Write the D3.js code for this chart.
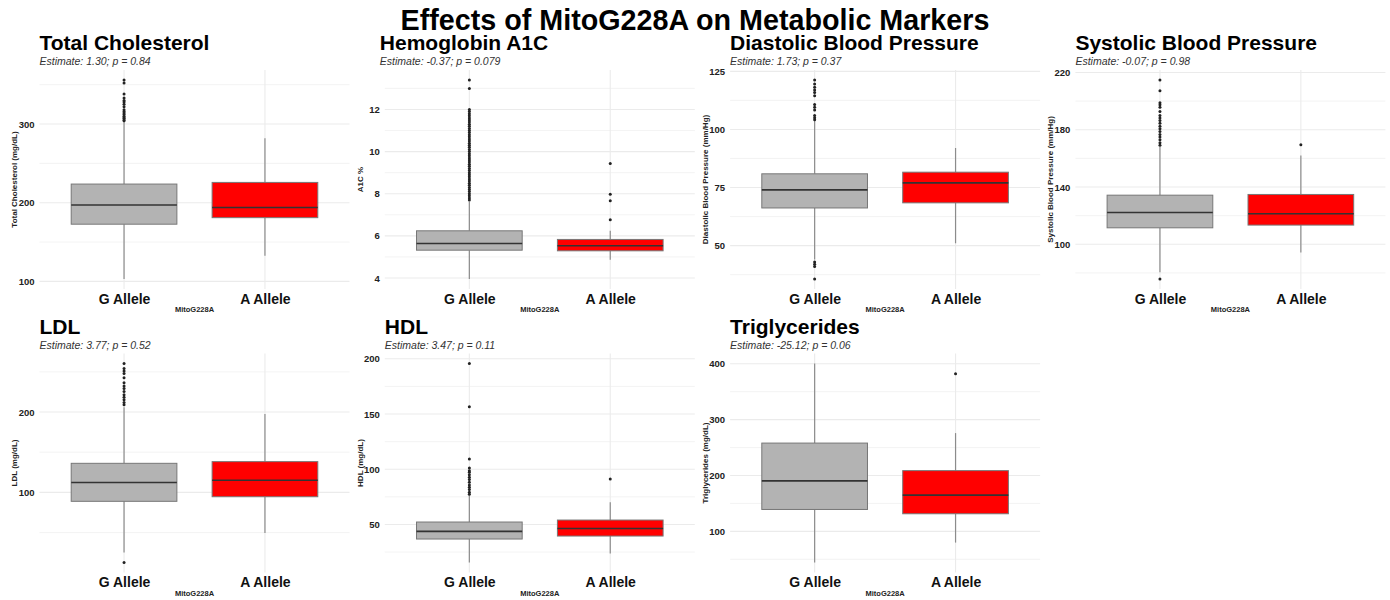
<!DOCTYPE html>
<html>
<head>
<meta charset="utf-8">
<script src="https://cdn.jsdelivr.net/npm/d3@7"></script>
<style>
  body { margin: 0; background: #fff; }
  text { font-family: "Liberation Sans", Arial, sans-serif; }
</style>
</head>
<body>
<div id="chart"></div>
<script>
var svgWidth = 1390;
var svgHeight = 600;

var mainTitle = "Effects of MitoG228A on Metabolic Markers";
var categories = ["G Allele", "A Allele"];
var xTitle = "MitoG228A";

var panelTitles = ["Total Cholesterol", "Hemoglobin A1C", "Diastolic Blood Pressure", "Systolic Blood Pressure",
                   "LDL", "HDL", "Triglycerides"];
var subtitles = ["Estimate: 1.30; p = 0.84", "Estimate: -0.37; p = 0.079", "Estimate: 1.73; p = 0.37",
                 "Estimate: -0.07; p = 0.98", "Estimate: 3.77; p = 0.52", "Estimate: 3.47; p = 0.11",
                 "Estimate: -25.12; p = 0.06"];
var yTitles = ["Total Cholesterol (mg/dL)", "A1C %", "Diastolic Blood Pressure (mm/Hg)",
               "Systolic Blood Pressure (mm/Hg)", "LDL (mg/dL)", "HDL (mg/dL)", "Triglycerides (mg/dL)"];
var yTicks = [[100, 200, 300], [4, 6, 8, 10, 12], [50, 75, 100, 125], [100, 140, 180, 220],
              [100, 200], [50, 100, 150, 200], [100, 200, 300, 400]];

// [lower whisker, Q1, median, Q3, upper whisker]
var gStats = [[103, 172.7, 197, 223.7, 302.6], [3.95, 5.32, 5.64, 6.24, 7.62], [44, 66.2, 74.0, 80.9, 103.9],
              [80.5, 111.5, 122.2, 134.3, 167.9], [25.1, 88.9, 112.3, 136.2, 206], [15.5, 36.8, 43.7, 52.2, 76.2],
              [44.2, 139.2, 190.3, 258, 400.5]];
var aStats = [[132.5, 181, 194, 225.8, 282], [4.87, 5.29, 5.53, 5.83, 6.24], [51.0, 68.4, 77.0, 81.6, 92.0],
              [94.2, 113.4, 121.3, 134.8, 162.1], [49.4, 94.6, 115.2, 138.3, 197.5], [23.6, 39.5, 46.4, 54.0, 70.2],
              [79.9, 131.5, 164.8, 208.7, 275.9]];

var gOutliers = [
  [356, 352, 338, 333, 330, 328, 325, 322, 318, 316, 314, 312, 310, 308, 307, 305, 304],
  [13.4, 13.0, 12.0, 11.9, 11.8, 11.7, 11.6, 11.5, 11.4, 11.3, 11.2, 11.1, 11.0, 10.9, 10.8, 10.7, 10.6,
   10.5, 10.4, 10.3, 10.2, 10.1, 10.0, 9.9, 9.8, 9.7, 9.6, 9.5, 9.4, 9.3, 9.2, 9.1, 9.0, 8.9, 8.8, 8.7,
   8.6, 8.5, 8.4, 8.3, 8.2, 8.1, 8.0, 7.9, 7.8, 7.7],
  [121.3, 119.6, 118.2, 117, 115.9, 114.5, 110.7, 109.6, 108.4, 106, 105, 104.2, 42.9, 42, 41, 35.6],
  [214.8, 207.3, 198.8, 197.4, 195.7, 192.7, 189.9, 188.3, 186.5, 184.6, 182.5, 180.7, 178.8, 176.7,
   174.9, 173, 171, 169.1, 75.7],
  [260.5, 254.3, 251, 248.1, 242.7, 236.5, 232.5, 229.2, 225.5, 221.4, 218.5, 215.2, 211.9, 209, 12.7],
  [195.8, 156.7, 109.2, 101.1, 98.7, 97.2, 95.1, 92.7, 90.6, 88.2, 85.8, 83.7, 81.6, 79.2, 77.4],
  []
];
var aOutliers = [[], [9.44, 7.97, 7.67, 6.76], [], [169.6], [], [91.2], [382.2]];

var fills = ["#b3b3b3", "#ff0000"];

// layout
var plotW = 310, plotH = 219;
var titleDx = [0, -5, 0, 0, 0, 0, 0];

var svg = d3.select("#chart").append("svg")
    .attr("width", svgWidth)
    .attr("height", svgHeight);

svg.append("text")
    .attr("x", svgWidth / 2)
    .attr("y", 30)
    .attr("text-anchor", "middle")
    .style("font-size", "28.7px")
    .style("font-weight", "bold")
    .attr("fill", "#000")
    .text(mainTitle);

panelTitles.forEach(function(title, i) {
    var col = i % 4, row = Math.floor(i / 4);
    var left = 39.5 + col * 345.3;
    var top = 70 + row * 283.5;

    var g = svg.append("g").attr("transform", `translate(${left}, ${top})`);

    var allVals = gStats[i].concat(aStats[i], gOutliers[i], aOutliers[i]);
    var lo = d3.min(allVals), hi = d3.max(allVals);
    var pad = (hi - lo) * 0.05;

    var yScale = d3.scaleLinear().domain([lo - pad, hi + pad]).range([plotH, 0]);
    var xScale = d3.scalePoint().domain(categories).range([0, plotW]).padding(0.6);
    var step = xScale.step();
    var boxW = step * 0.75;

    // minor grid
    var t = yTicks[i];
    var tStep = t[1] - t[0];
    var minors = [];
    for (var m = t[0] - tStep * 1.5; m <= hi + pad; m += tStep) {
        if (m >= lo - pad) minors.push(m);
    }
    g.append("g").selectAll("line")
        .data(minors)
        .enter()
        .append("line")
        .attr("x1", 0).attr("x2", plotW)
        .attr("y1", d => yScale(d)).attr("y2", d => yScale(d))
        .attr("stroke", "#f0f0f0")
        .attr("stroke-width", 0.8);

    // major grid
    g.append("g").selectAll("line")
        .data(t)
        .enter()
        .append("line")
        .attr("x1", 0).attr("x2", plotW)
        .attr("y1", d => yScale(d)).attr("y2", d => yScale(d))
        .attr("stroke", "#ebebeb")
        .attr("stroke-width", 1.1);

    g.append("g").selectAll("line")
        .data(categories)
        .enter()
        .append("line")
        .attr("x1", d => xScale(d)).attr("x2", d => xScale(d))
        .attr("y1", 0).attr("y2", plotH)
        .attr("stroke", "#ebebeb")
        .attr("stroke-width", 1.1);

    // y axis labels
    var yAxis = d3.axisLeft(yScale).tickValues(t).tickSize(0).tickPadding(5);
    var ya = g.append("g").call(yAxis);
    ya.select(".domain").remove();
    ya.selectAll("text")
        .style("font-size", "9.5px")
        .style("font-weight", "bold")
        .attr("fill", "#222");

    // x axis labels
    var xAxis = d3.axisBottom(xScale).tickSize(0).tickPadding(5);
    var xa = g.append("g").attr("transform", `translate(0, ${plotH})`).call(xAxis);
    xa.select(".domain").remove();
    xa.selectAll("text")
        .style("font-size", "14px")
        .style("font-weight", "bold")
        .attr("fill", "#111");

    // boxes
    var boxes = [gStats[i], aStats[i]];
    var outs = [gOutliers[i], aOutliers[i]];
    boxes.forEach(function(s, k) {
        var cx = xScale(categories[k]);
        g.append("line")
            .attr("x1", cx).attr("x2", cx)
            .attr("y1", yScale(s[0])).attr("y2", yScale(s[1]))
            .attr("stroke", "#8c8c8c").attr("stroke-width", 1.2);
        g.append("line")
            .attr("x1", cx).attr("x2", cx)
            .attr("y1", yScale(s[3])).attr("y2", yScale(s[4]))
            .attr("stroke", "#8c8c8c").attr("stroke-width", 1.2);
        g.append("rect")
            .attr("x", cx - boxW / 2)
            .attr("y", yScale(s[3]))
            .attr("width", boxW)
            .attr("height", yScale(s[1]) - yScale(s[3]))
            .attr("fill", fills[k])
            .attr("stroke", "#777")
            .attr("stroke-width", 1);
        g.append("line")
            .attr("x1", cx - boxW / 2).attr("x2", cx + boxW / 2)
            .attr("y1", yScale(s[2])).attr("y2", yScale(s[2]))
            .attr("stroke", "#333").attr("stroke-width", 1.6);
        g.append("g").selectAll("circle")
            .data(outs[k])
            .enter()
            .append("circle")
            .attr("cx", cx)
            .attr("cy", d => yScale(d))
            .attr("r", 1.5)
            .attr("fill", "#222");
    });

    // titles
    g.append("text")
        .attr("x", titleDx[i])
        .attr("y", -20)
        .style("font-size", "21px")
        .style("font-weight", "bold")
        .attr("fill", "#000")
        .text(title);

    g.append("text")
        .attr("x", titleDx[i])
        .attr("y", -5)
        .style("font-size", "10.5px")
        .style("font-style", "italic")
        .attr("fill", "#333")
        .text(subtitles[i]);

    g.append("text")
        .attr("transform", `translate(-25, ${plotH / 2}) rotate(-90)`)
        .attr("text-anchor", "middle")
        .attr("dy", "0.35em")
        .style("font-size", "8px")
        .style("font-weight", "bold")
        .attr("fill", "#222")
        .text(yTitles[i]);

    g.append("text")
        .attr("x", plotW / 2)
        .attr("y", plotH + 23)
        .attr("text-anchor", "middle")
        .style("font-size", "7.5px")
        .style("font-weight", "bold")
        .attr("fill", "#222")
        .text(xTitle);
});
</script>
</body>
</html>
